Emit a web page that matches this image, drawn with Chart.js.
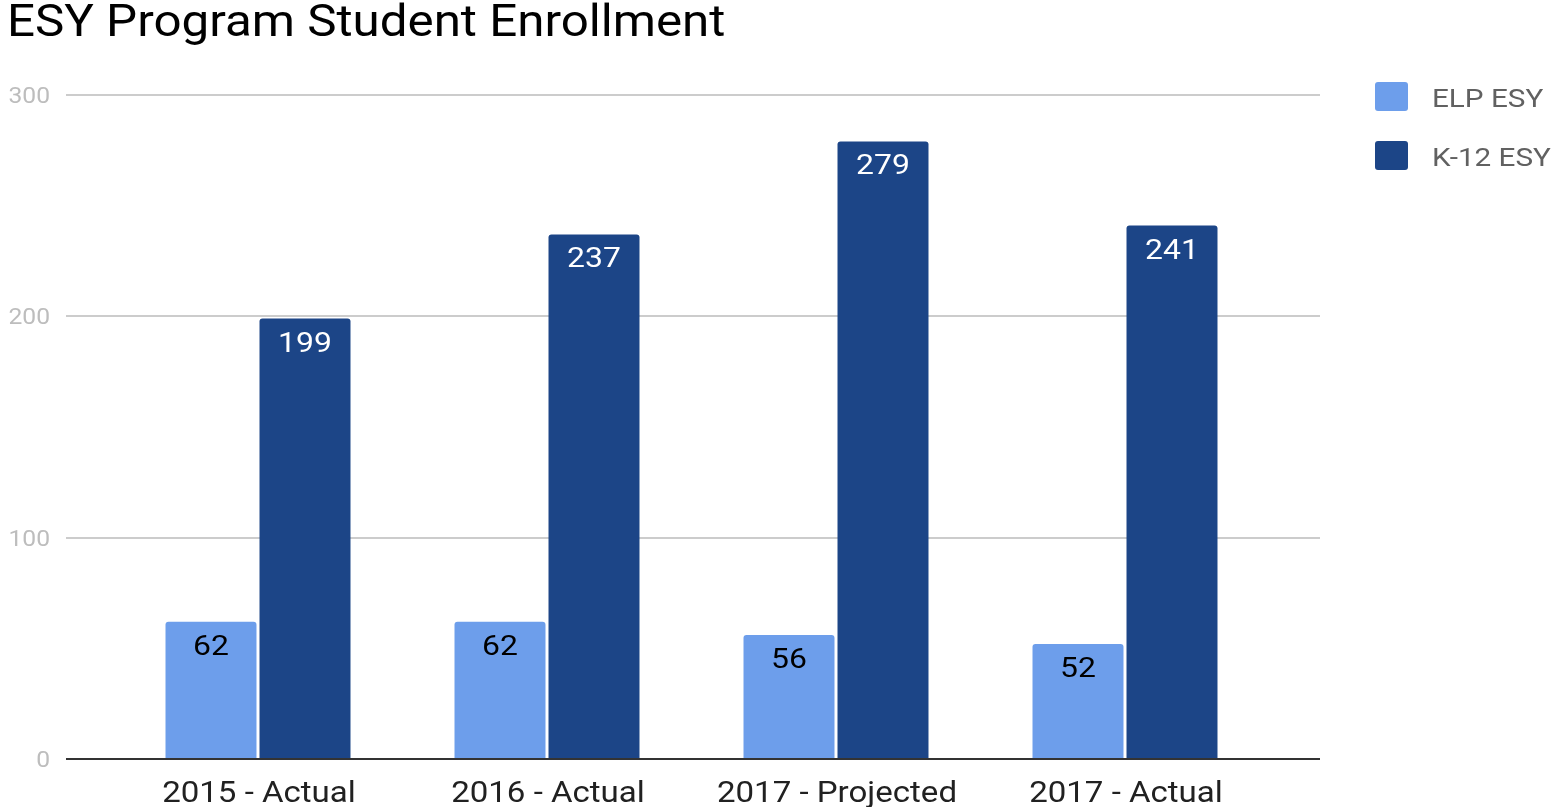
<!DOCTYPE html>
<html>
<head>
<meta charset="utf-8">
<script src="https://cdn.jsdelivr.net/npm/chart.js@4.4.1/dist/chart.umd.min.js"></script>
<style>
  html, body { margin: 0; padding: 0; background: #fff; overflow: hidden; }
  canvas { display: block; }
</style>
</head>
<body>
<canvas id="enrollChart" width="1553" height="807" style="width:1553px;height:807px"></canvas>
<script>
// --- datos ---
const TITULO = 'ESY Program Student Enrollment';
const categorias = ['2015 - Actual', '2016 - Actual', '2017 - Projected', '2017 - Actual'];
const elpEsy = [62, 62, 56, 52];
const k12Esy = [199, 237, 279, 241];
const ticksY = [0, 100, 200, 300];

const FUENTE = 'Roboto, "Noto Sans", sans-serif';
const SX = 1.12; // el texto del original es algo mas ancho

function texto(ctx, t, x, y, align) {
    ctx.save();
    ctx.translate(x, y);
    ctx.scale(SX, 1);
    ctx.textAlign = align;
    ctx.fillText(t, 0, 0);
    ctx.restore();
}

// lineas de la rejilla mas largas que el area del grafico
const rejillaPlugin = {
    id: 'rejilla',
    beforeDatasetsDraw(chart) {
        const { ctx } = chart;
        const y = chart.scales.y;
        ctx.save();
        ticksY.forEach(v => {
            if (v === 0) return;
            const py = Math.round(y.getPixelForValue(v));
            ctx.strokeStyle = '#cccccc';
            ctx.lineWidth = 2;
            ctx.beginPath();
            ctx.moveTo(66, py);
            ctx.lineTo(1320, py);
            ctx.stroke();
        });
        ctx.restore();
    },
    afterDatasetsDraw(chart) {
        const { ctx } = chart;
        const py = Math.round(chart.scales.y.getPixelForValue(0));
        ctx.save();
        ctx.strokeStyle = '#333333';
        ctx.lineWidth = 2;
        ctx.beginPath();
        ctx.moveTo(66, py);
        ctx.lineTo(1320, py);
        ctx.stroke();
        ctx.restore();
    }
};

// etiquetas de valor, ejes, titulo y leyenda
const textosPlugin = {
    id: 'textos',
    afterDraw(chart) {
        const { ctx } = chart;
        const x = chart.scales.x;
        const y = chart.scales.y;
        ctx.save();
        ctx.textBaseline = 'alphabetic';

        // valores dentro de las barras
        ctx.font = '28.5px ' + FUENTE;
        chart.data.datasets.forEach((ds, i) => {
            chart.getDatasetMeta(i).data.forEach((bar, j) => {
                ctx.fillStyle = ds.labelColor;
                texto(ctx, String(ds.data[j]), bar.x, bar.y + 33, 'center');
            });
        });

        // eje y
        ctx.fillStyle = '#bdbdbd';
        ctx.font = '22px ' + FUENTE;
        ticksY.forEach(v => {
            texto(ctx, String(v), 50, y.getPixelForValue(v) + 8, 'right');
        });

        // eje x
        ctx.fillStyle = '#212121';
        ctx.font = '29.5px ' + FUENTE;
        categorias.forEach((c, i) => {
            texto(ctx, c, x.getPixelForTick(i) + 1, 802, 'center');
        });

        // titulo
        ctx.fillStyle = '#000000';
        ctx.font = '44px ' + FUENTE;
        texto(ctx, TITULO, 7, 36, 'left');

        // leyenda
        chart.data.datasets.forEach((ds, i) => {
            const top = 82 + i * 59;
            ctx.fillStyle = ds.backgroundColor;
            ctx.beginPath();
            ctx.roundRect(1375, top, 33, 29, 3);
            ctx.fill();
            ctx.fillStyle = '#616161';
            ctx.font = '26.5px ' + FUENTE;
            texto(ctx, ds.label, 1432, top + 25, 'left');
        });
        ctx.restore();
    }
};

const enrollChart = new Chart(document.getElementById('enrollChart'), {
    type: 'bar',
    data: {
        labels: categorias,
        datasets: [
            {
                label: 'ELP ESY',
                data: elpEsy,
                backgroundColor: '#6d9eeb',
                labelColor: '#000000',
                borderRadius: { topLeft: 3, topRight: 3 },
                borderSkipped: 'bottom'
            },
            {
                label: 'K-12 ESY',
                data: k12Esy,
                backgroundColor: '#1c4587',
                labelColor: '#ffffff',
                borderRadius: { topLeft: 3, topRight: 3 },
                borderSkipped: 'bottom'
            }
        ]
    },
    options: {
        responsive: false,
        animation: false,
        categoryPercentage: 0.6505,
        barPercentage: 0.968,
        layout: { padding: { top: 95, right: 283.5, bottom: 0, left: 0 } },
        plugins: {
            legend: { display: false },
            title: { display: false },
            tooltip: { enabled: false }
        },
        scales: {
            x: {
                grid: { display: false },
                border: { display: false },
                ticks: { display: false },
                afterFit(scale) { scale.height = 48; }
            },
            y: {
                min: 0,
                max: 300,
                grid: { display: false, drawTicks: false },
                border: { display: false },
                ticks: { display: false, stepSize: 100 },
                afterFit(scale) { scale.width = 113.5; }
            }
        }
    },
    plugins: [rejillaPlugin, textosPlugin]
});
</script>
</body>
</html>
